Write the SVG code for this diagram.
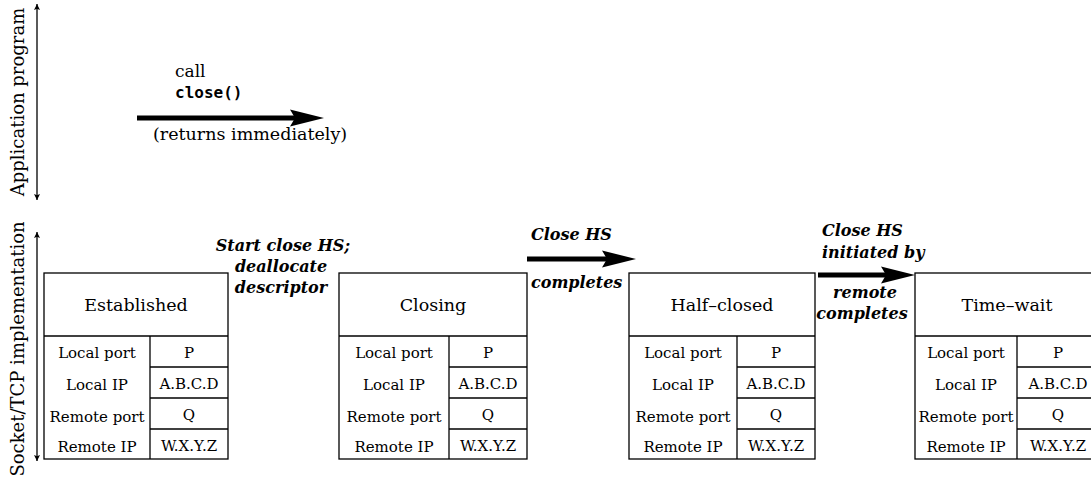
<svg xmlns="http://www.w3.org/2000/svg" width="1091" height="477" viewBox="0 0 1091 477">
<style>
.t{font-family:"DejaVu Serif","Liberation Serif",serif;fill:#000}
.lab{font-size:17.5px;text-anchor:middle}
.cell{font-size:15px;text-anchor:middle}
.bi{font-family:"DejaVu Serif","Liberation Serif",serif;font-size:16px;font-weight:bold;font-style:italic}
.box{fill:#fff;stroke:#000;stroke-width:1.3}
.ln{stroke:#000;stroke-width:1.3;fill:none}
.thick{stroke:#000;stroke-width:5;fill:none}
.axis{stroke:#000;stroke-width:1.3;fill:none}
</style>
<defs>
<marker id="ah" viewBox="0 0 10 10" refX="10" refY="5" markerWidth="6" markerHeight="8" orient="auto-start-reverse" markerUnits="userSpaceOnUse">
<path d="M0,0 L10,5 L0,10 L2,5 Z" fill="#000"/>
</marker>
<path id="big" d="M0,0 L-34,-8.5 L-29,0 L-34,8.5 Z" fill="#000"/>
<g id="table">
<rect class="box" x="0" y="0" width="184" height="186"/>
<line class="ln" x1="0" y1="63" x2="184" y2="63"/>
<line class="ln" x1="106" y1="63" x2="106" y2="186"/>
<line class="ln" x1="106" y1="94" x2="184" y2="94"/>
<line class="ln" x1="106" y1="125" x2="184" y2="125"/>
<line class="ln" x1="106" y1="156" x2="184" y2="156"/>
</g>
</defs>

<g id="axes">
<line class="axis" x1="37" y1="4" x2="37" y2="200" marker-start="url(#ah)" marker-end="url(#ah)"/>
<text class="t" font-size="18" text-anchor="middle" transform="translate(24,102) rotate(-90)">Application program</text>
<line class="axis" x1="37" y1="232" x2="37" y2="461" marker-start="url(#ah)" marker-end="url(#ah)"/>
<text class="t" font-size="18" text-anchor="middle" transform="translate(24,349) rotate(-90)">Socket/TCP implementation</text>
</g>

<g id="connectors">
<g id="call-arrow">
<line class="thick" x1="137" y1="118" x2="296" y2="118"/>
<use href="#big" x="324" y="118"/>
<text class="t" font-size="17" x="175" y="77">call</text>
<text x="175" y="98" font-family="DejaVu Sans Mono,Liberation Mono,monospace" font-weight="bold" font-size="16">close()</text>
<text class="t" font-size="17.5" x="153" y="140">(returns immediately)</text>
</g>
<g id="lbl-start">
<text class="bi" text-anchor="middle" x="283" y="251">Start close HS;</text>
<text class="bi" text-anchor="middle" x="281" y="272">deallocate</text>
<text class="bi" text-anchor="middle" x="281" y="293">descriptor</text>
</g>
<g id="arrow-closehs">
<line class="thick" x1="527" y1="259" x2="608" y2="259"/>
<use href="#big" x="636" y="259"/>
<text class="bi" x="531" y="240">Close HS</text>
<text class="bi" x="531" y="288">completes</text>
</g>
<g id="arrow-remote">
<line class="thick" x1="818" y1="275" x2="887" y2="275"/>
<use href="#big" x="915" y="275"/>
<text class="bi" x="822" y="236">Close HS</text>
<text class="bi" x="822" y="258">initiated by</text>
<text class="bi" text-anchor="middle" x="865" y="298">remote</text>
<text class="bi" text-anchor="middle" x="862" y="319">completes</text>
</g>
</g>

<g id="established" transform="translate(44,273)">
<use href="#table"/>
<text class="t lab" x="92" y="38">Established</text>
<text class="t cell" x="53" y="85">Local port</text>
<text class="t cell" x="53" y="117">Local IP</text>
<text class="t cell" x="53" y="149">Remote port</text>
<text class="t cell" x="53" y="179">Remote IP</text>
<text class="t cell" x="145" y="85">P</text>
<text class="t cell" x="145" y="116">A.B.C.D</text>
<text class="t cell" x="145" y="147">Q</text>
<text class="t cell" x="145" y="178">W.X.Y.Z</text>
</g>

<g id="closing" transform="translate(339,273)">
<rect class="box" x="0" y="0" width="188" height="186"/>
<line class="ln" x1="0" y1="63" x2="188" y2="63"/>
<line class="ln" x1="110" y1="63" x2="110" y2="186"/>
<line class="ln" x1="110" y1="94" x2="188" y2="94"/>
<line class="ln" x1="110" y1="125" x2="188" y2="125"/>
<line class="ln" x1="110" y1="156" x2="188" y2="156"/>
<text class="t lab" x="94" y="38">Closing</text>
<text class="t cell" x="55" y="85">Local port</text>
<text class="t cell" x="55" y="117">Local IP</text>
<text class="t cell" x="55" y="149">Remote port</text>
<text class="t cell" x="55" y="179">Remote IP</text>
<text class="t cell" x="149" y="85">P</text>
<text class="t cell" x="149" y="116">A.B.C.D</text>
<text class="t cell" x="149" y="147">Q</text>
<text class="t cell" x="149" y="178">W.X.Y.Z</text>
</g>

<g id="half-closed" transform="translate(629,273)">
<rect class="box" x="0" y="0" width="186" height="186"/>
<line class="ln" x1="0" y1="63" x2="186" y2="63"/>
<line class="ln" x1="108" y1="63" x2="108" y2="186"/>
<line class="ln" x1="108" y1="94" x2="186" y2="94"/>
<line class="ln" x1="108" y1="125" x2="186" y2="125"/>
<line class="ln" x1="108" y1="156" x2="186" y2="156"/>
<text class="t lab" x="93" y="38">Half–closed</text>
<text class="t cell" x="54" y="85">Local port</text>
<text class="t cell" x="54" y="117">Local IP</text>
<text class="t cell" x="54" y="149">Remote port</text>
<text class="t cell" x="54" y="179">Remote IP</text>
<text class="t cell" x="147" y="85">P</text>
<text class="t cell" x="147" y="116">A.B.C.D</text>
<text class="t cell" x="147" y="147">Q</text>
<text class="t cell" x="147" y="178">W.X.Y.Z</text>
</g>

<g id="time-wait" transform="translate(915,273)">
<rect class="box" x="0" y="0" width="184" height="186"/>
<line class="ln" x1="0" y1="63" x2="184" y2="63"/>
<line class="ln" x1="102" y1="63" x2="102" y2="186"/>
<line class="ln" x1="102" y1="94" x2="184" y2="94"/>
<line class="ln" x1="102" y1="125" x2="184" y2="125"/>
<line class="ln" x1="102" y1="156" x2="184" y2="156"/>
<text class="t lab" x="92" y="38">Time–wait</text>
<text class="t cell" x="51" y="85">Local port</text>
<text class="t cell" x="51" y="117">Local IP</text>
<text class="t cell" x="51" y="149">Remote port</text>
<text class="t cell" x="51" y="179">Remote IP</text>
<text class="t cell" x="143" y="85">P</text>
<text class="t cell" x="143" y="116">A.B.C.D</text>
<text class="t cell" x="143" y="147">Q</text>
<text class="t cell" x="143" y="178">W.X.Y.Z</text>
</g>
</svg>
